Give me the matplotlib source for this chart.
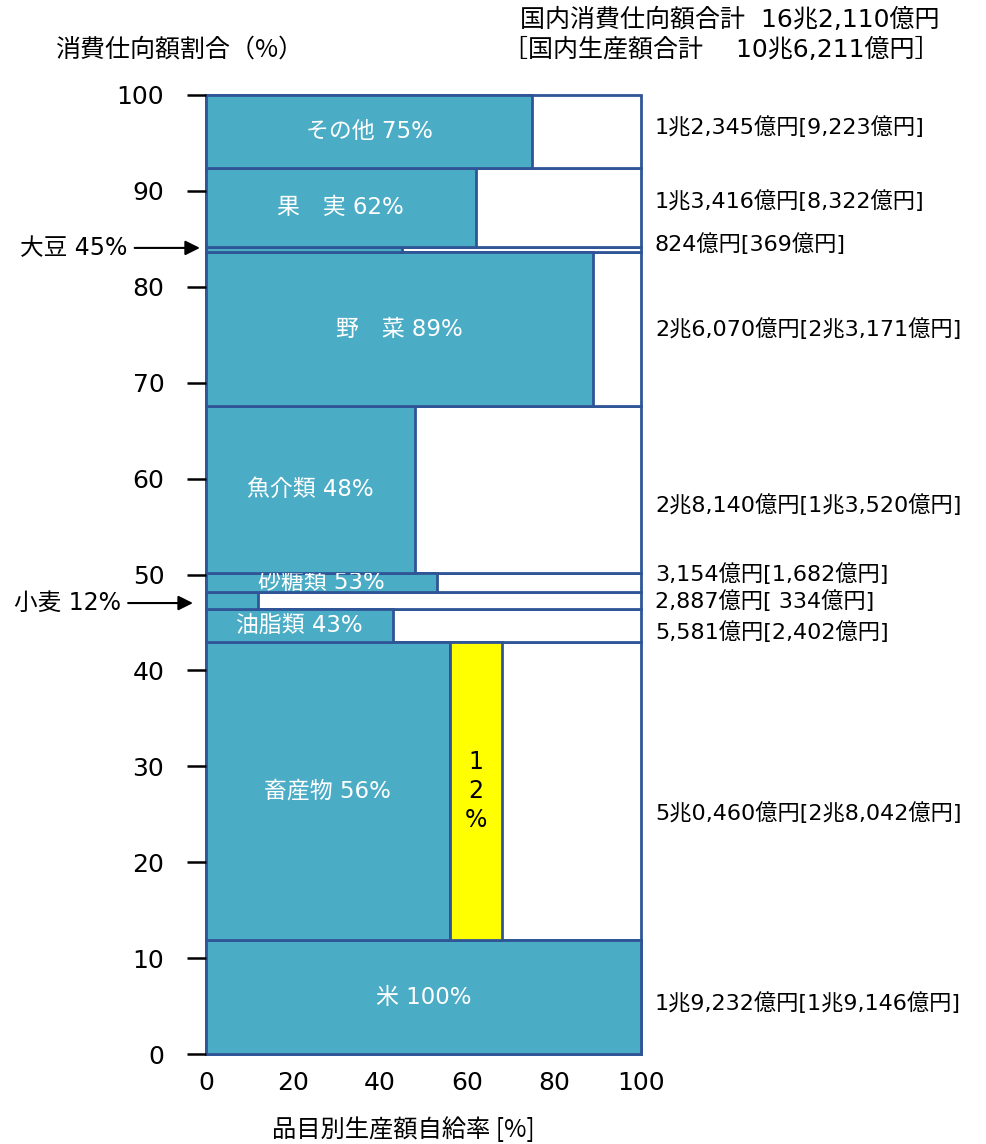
import matplotlib.pyplot as plt
import numpy as np

plt.rcParams['font.family'] = ['Noto Sans CJK JP', 'DejaVu Sans']
WIDE = ['DejaVu Sans', 'Noto Sans CJK JP']  # wider digits, kanji from Noto

# Data (bottom to top), amounts in 億円
names = ['米', '畜産物', '油脂類', '小麦', '砂糖類', '魚介類', '野　菜', '大豆', '果　実', 'その他']
consumption = [19232, 50460, 5581, 2887, 3154, 28140, 26070, 824, 13416, 12345]
production = [19146, 28042, 2402, 334, 1682, 13520, 23171, 369, 8322, 9223]
rates = [100, 56, 43, 12, 53, 48, 89, 45, 62, 75]
inside_label = [True, True, True, False, True, True, True, False, True, True]
feed_rate = 12  # 畜産物 (yellow part)

# small vertical nudges for the amount labels on the right
label_shift = [-0.6, -2.3, -0.7, -0.1, 0.9, -1.6, 0.0, 0.55, 0.65, 0.5]

teal = '#4BACC6'
edge = '#2F5597'

total = sum(consumption)
heights = np.array(consumption) / total * 100
bottoms = np.concatenate([[0], np.cumsum(heights)[:-1]])
centers = bottoms + heights / 2


def fmt(v):
    if v >= 10000:
        r = v % 10000
        return f"{v // 10000}兆{r // 1000},{r % 1000:03d}億円"
    return f"{v:,}億円"


fig = plt.figure(figsize=(9.87, 11.44), dpi=100)
ax = fig.add_axes([206 / 987, 1 - 1054 / 1144, 435 / 987, 959 / 1144])

# full-width frames, then the self-sufficiency part
frames = ax.barh(bottoms, 100, height=heights, left=0, align='edge',
                 color='white', edgecolor=edge, linewidth=2)
bars = ax.barh(bottoms, rates, height=heights, left=0, align='edge',
               color=teal, edgecolor=edge, linewidth=2)
for p in list(frames) + list(bars):
    p.set_clip_on(False)
i_meat = names.index('畜産物')
ax.barh(bottoms[i_meat], feed_rate, height=heights[i_meat], left=rates[i_meat],
        align='edge', color='#FFFF00', edgecolor=edge, linewidth=2)
ax.text(rates[i_meat] + feed_rate / 2, centers[i_meat], '1\n2\n%', ha='center',
        va='center', fontsize=17, linespacing=1.25, color='black', family=WIDE)

for i, name in enumerate(names):
    if inside_label[i]:
        t = ax.text(rates[i] / 2, centers[i], f"{name} {rates[i]}%", ha='center',
                    va='center', color='white', fontsize=16.5, family=WIDE,
                    clip_on=True)
        t.set_clip_path(bars[i])
    c, p = consumption[i], production[i]
    pad = ' ' if (c >= 1000 and p < 1000) else ''
    ax.text(103.2, centers[i] + label_shift[i], f"{fmt(c)}[{pad}{fmt(p)}]",
            ha='left', va='center', fontsize=16, clip_on=False, family=WIDE)

# arrows for thin rows
for name, tip, tail, y in [('大豆', -1.4, -18, centers[names.index('大豆')] + 0.2),
                           ('小麦', -3.0, -19.5, centers[names.index('小麦')] - 0.3)]:
    i = names.index(name)
    ax.annotate(f"{name} {rates[i]}%", xy=(tip, y), xytext=(tail, y),
                ha='right', va='center', fontsize=17, family=WIDE,
                annotation_clip=False,
                arrowprops=dict(arrowstyle='-|>', color='black', lw=1.5,
                                mutation_scale=22, shrinkA=3, shrinkB=0,
                                relpos=(1, 0.5)))

ax.set_xlim(0, 100)
ax.set_ylim(0, 100)
ax.set_xticks(np.arange(0, 101, 20))
ax.set_yticks(np.arange(0, 101, 10))
ax.tick_params(axis='y', length=14, width=1.8, pad=16, labelsize=18)
ax.tick_params(axis='x', length=0, pad=12, labelsize=18)
for lab in ax.get_xticklabels() + ax.get_yticklabels():
    lab.set_family(WIDE)
for s in ax.spines.values():
    s.set_visible(False)

fig.text(272 / 987, 1 - 1130 / 1144, '品目別生産額自給率 [%]', ha='left', va='center', fontsize=17.5)
fig.text(55 / 987, 1 - 50 / 1144, '消費仕向額割合（%）', ha='left', va='center', fontsize=18)
fig.text(940 / 987, 1 - 20 / 1144, '国内消費仕向額合計  16兆2,110億円', ha='right', va='center',
         fontsize=18, family=WIDE)
fig.text(940 / 987, 1 - 50 / 1144, '［国内生産額合計　 10兆6,211億円］', ha='right', va='center',
         fontsize=18, family=WIDE)

fig.savefig('out.png', dpi=100)
